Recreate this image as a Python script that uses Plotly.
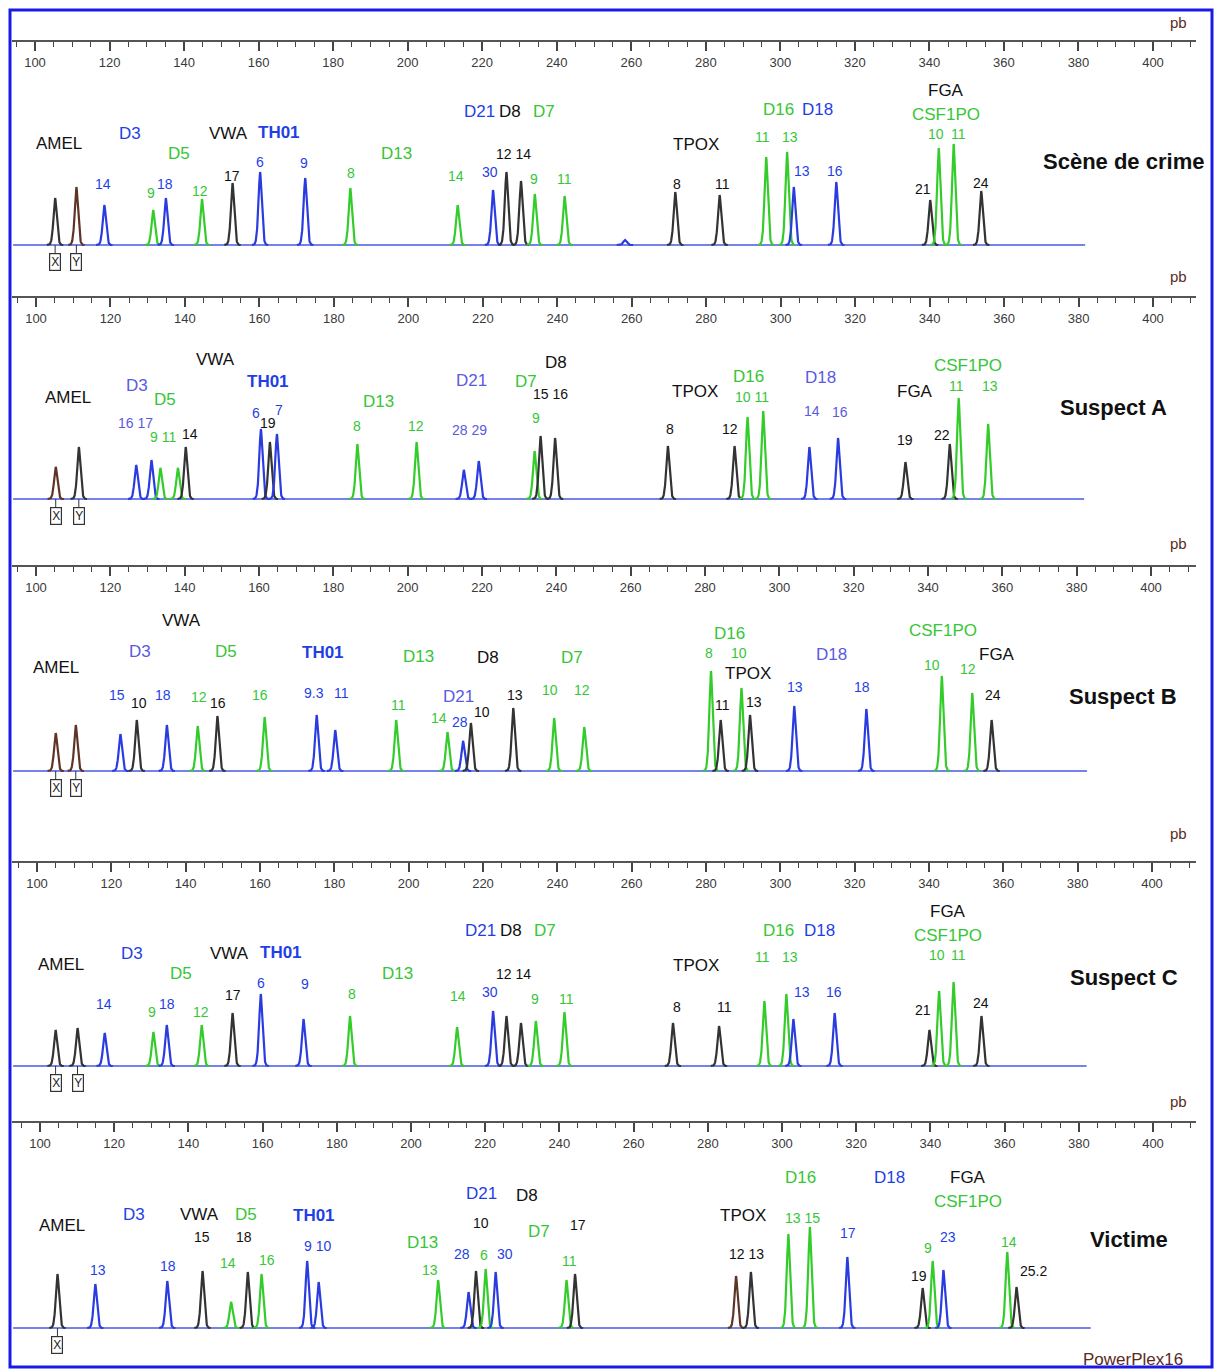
import numpy as np
import plotly.graph_objects as go

W, H = 1215, 1370
FONT = "Liberation Sans, Arial, sans-serif"

panel_names = ["Scène de crime", "Suspect A", "Suspect B", "Suspect C", "Victime"]

# ---------------- peak data: size (bp), height, dye ----------------
# dye codes: B blue, G green, K black, R brown
p1_bp  = [105.4, 111.1, 118.6, 131.7, 135.1, 144.8, 153.0, 160.4, 172.5, 184.6, 213.4, 222.9, 226.5, 230.4, 234.1, 242.1,
          258.3, 271.8, 283.7, 296.2, 301.8, 303.6, 315.0, 340.2, 342.5, 346.5, 353.9]
p1_h   = [47, 58, 40, 35, 47, 46, 62, 73, 67, 57, 40, 55, 73, 64, 51, 49,
          5, 53, 50, 88, 93, 58, 63, 45, 97, 101, 54]
p1_dye = ["K", "R", "B", "G", "B", "G", "K", "B", "B", "G", "G", "B", "K", "K", "G", "G",
          "B", "K", "K", "G", "G", "B", "B", "K", "G", "G", "K"]

p2_bp  = [105.3, 111.5, 126.9, 131.0, 133.4, 138.1, 140.2, 160.4, 162.8, 164.7, 186.3, 202.2, 214.9, 218.9, 233.9, 235.5, 239.4,
          269.7, 287.6, 291.1, 295.3, 307.7, 315.4, 333.5, 345.4, 347.8, 355.7]
p2_h   = [32, 52, 34, 39, 31, 31, 52, 70, 57, 65, 55, 57, 29, 38, 48, 63, 61,
          53, 53, 82, 88, 52, 61, 37, 55, 101, 75]
p2_dye = ["R", "K", "B", "B", "G", "G", "K", "B", "K", "B", "G", "G", "B", "B", "G", "K", "K",
          "K", "K", "G", "G", "B", "B", "K", "K", "G", "G"]

p3_bp  = [105.3, 110.7, 122.7, 127.1, 135.2, 143.5, 148.8, 161.5, 175.5, 180.5, 196.9, 210.7, 214.9, 217.0, 228.4, 239.4, 247.5,
          281.6, 284.2, 289.8, 292.1, 304.0, 323.4, 343.7, 351.9, 357.1]
p3_h   = [38, 46, 37, 51, 46, 45, 55, 54, 56, 41, 51, 39, 30, 48, 63, 53, 44,
          100, 51, 83, 56, 65, 62, 95, 78, 51]
p3_dye = ["R", "R", "B", "K", "B", "G", "K", "G", "B", "B", "G", "G", "B", "K", "K", "G", "G",
          "G", "K", "G", "K", "B", "B", "G", "G", "K"]

p4_bp  = [105.0, 110.9, 118.2, 131.3, 134.9, 144.3, 152.6, 160.2, 171.7, 184.2, 213.0, 222.7, 226.3, 230.2, 234.2, 241.9,
          271.1, 283.5, 295.7, 301.6, 303.5, 314.6, 340.1, 342.7, 346.6, 354.1]
p4_h   = [36, 38, 33, 34, 41, 41, 53, 72, 47, 50, 39, 55, 50, 43, 45, 54,
          43, 40, 65, 72, 47, 53, 36, 75, 84, 50]
p4_dye = ["K", "K", "B", "G", "B", "G", "K", "B", "B", "G", "G", "B", "K", "K", "G", "G",
          "K", "K", "G", "G", "B", "B", "K", "G", "G", "K"]

p5_bp  = [104.7, 114.9, 134.3, 143.8, 151.5, 156.0, 159.7, 172.0, 175.1, 207.3, 215.5, 217.5, 220.1, 222.8, 241.9, 244.2,
          287.6, 291.6, 301.7, 307.5, 317.6, 337.9, 340.6, 343.5, 360.7, 363.2]
p5_h   = [54, 44, 47, 57, 26, 56, 54, 67, 46, 48, 36, 57, 59, 56, 48, 54,
          52, 56, 94, 101, 71, 40, 67, 58, 76, 41]
p5_dye = ["K", "B", "B", "K", "G", "K", "G", "B", "B", "G", "B", "K", "G", "B", "G", "K",
          "R", "K", "G", "G", "B", "K", "G", "B", "G", "K"]

baseline_end = [381.8, 381.5, 382.8, 382.4, 383.2]

# amelogenin boxes (bp of X / Y peaks)
amel_labels = [["X", "Y"], ["X", "Y"], ["X", "Y"], ["X", "Y"], ["X"]]

# ---------------- text labels: text, bp, height, colour code, kind ----------------
lab1 = [
    ("AMEL", 106.4, 102, "K", "l"), ("D3", 125.5, 112, "B", "l"), ("VWA", 151.8, 112, "K", "l"),
    ("TH01", 165.5, 113, "B", "lb"), ("D5", 138.6, 92, "G", "l"), ("D13", 196.9, 92, "G", "l"),
    ("D21", 219.4, 134, "B", "l"), ("D8", 227.4, 134, "K", "l"), ("D7", 236.6, 134, "G", "l"),
    ("12 14", 228.5, 91, "K", "a"), ("14", 118.2, 61, "B", "a"), ("9", 131.1, 52, "G", "a"),
    ("18", 134.9, 61, "B", "a"), ("12", 144.3, 54, "G", "a"), ("17", 152.9, 69, "K", "a"),
    ("6", 160.4, 83, "B", "a"), ("9", 172.2, 82, "B", "a"), ("8", 184.8, 72, "G", "a"),
    ("14", 213.0, 69, "G", "a"), ("30", 222.1, 73, "B", "a"), ("9", 233.9, 66, "G", "a"),
    ("11", 242.2, 66, "G", "a"), ("TPOX", 277.4, 101, "K", "l"), ("8", 272.3, 61, "K", "a"),
    ("11", 284.6, 61, "K", "a"), ("D16", 299.4, 136, "G", "l"), ("D18", 310.1, 136, "B", "l"),
    ("11", 295.3, 108, "G", "a"), ("13", 302.6, 108, "G", "a"), ("13", 305.8, 74, "B", "a"),
    ("16", 314.7, 74, "B", "a"), ("FGA", 344.4, 155, "K", "l"), ("CSF1PO", 344.4, 131, "G", "l"),
    ("10", 341.8, 111, "G", "a"), ("11", 347.7, 111, "G", "a"), ("21", 338.3, 56, "K", "a"),
    ("24", 353.8, 62, "K", "a"),
]
lab2 = [
    ("VWA", 148.3, 139, "K", "l"), ("D3", 127.1, 113, "b", "l"), ("D5", 134.6, 99, "G", "l"),
    ("TH01", 162.3, 117, "B", "lb"), ("AMEL", 108.6, 101, "K", "l"), ("16 17", 126.8, 76, "b", "a"),
    ("9 11", 134.1, 62, "G", "a"), ("14", 141.3, 65, "K", "a"), ("6", 159.1, 86, "B", "a"),
    ("19", 162.3, 76, "K", "a"), ("7", 165.2, 89, "B", "a"), ("D13", 192.1, 97, "G", "l"),
    ("8", 186.2, 73, "G", "a"), ("12", 202.0, 73, "G", "a"), ("D21", 217.0, 118, "b", "l"),
    ("28 29", 216.5, 69, "b", "a"), ("D7", 231.5, 117, "G", "l"), ("D8", 239.6, 136, "K", "l"),
    ("15 16", 238.3, 105, "K", "a"), ("9", 234.2, 81, "G", "a"), ("TPOX", 276.9, 107, "K", "l"),
    ("D16", 291.4, 122, "G", "l"), ("10 11", 292.2, 102, "G", "a"), ("D18", 310.7, 121, "b", "l"),
    ("14", 308.3, 88, "b", "a"), ("16", 315.8, 87, "b", "a"), ("8", 270.2, 70, "K", "a"),
    ("12", 286.3, 70, "K", "a"), ("FGA", 336.2, 107, "K", "l"), ("19", 333.3, 59, "K", "a"),
    ("22", 343.2, 64, "K", "a"), ("CSF1PO", 350.2, 133, "G", "l"), ("11", 347.2, 113, "G", "a"),
    ("13", 356.1, 113, "G", "a"),
]
lab3 = [
    ("VWA", 139.2, 151, "K", "l"), ("D3", 128.0, 120, "b", "l"), ("D5", 151.1, 120, "G", "l"),
    ("TH01", 177.2, 119, "B", "lb"), ("AMEL", 105.4, 104, "K", "l"), ("D13", 203.0, 115, "G", "l"),
    ("D8", 221.5, 114, "K", "l"), ("D7", 244.1, 114, "G", "l"), ("15", 121.8, 76, "B", "a"),
    ("10", 127.7, 68, "K", "a"), ("18", 134.1, 76, "B", "a"), ("12", 143.8, 74, "G", "a"),
    ("16", 148.9, 68, "K", "a"), ("16", 160.2, 76, "G", "a"), ("9.3", 174.7, 78, "B", "a"),
    ("11", 182.3, 78, "B", "a"), ("11", 197.6, 66, "G", "a"), ("D21", 213.7, 75, "b", "l"),
    ("14", 208.3, 53, "G", "a"), ("28", 214.2, 49, "B", "a"), ("10", 219.9, 59, "K", "a"),
    ("13", 229.0, 76, "K", "a"), ("10", 238.4, 81, "G", "a"), ("12", 247.0, 81, "G", "a"),
    ("D16", 286.5, 138, "G", "l"), ("8", 281.2, 118, "G", "a"), ("10", 289.2, 118, "G", "a"),
    ("TPOX", 291.5, 98, "K", "l"), ("11", 284.7, 66, "K", "a"), ("13", 293.3, 69, "K", "a"),
    ("D18", 314.0, 117, "b", "l"), ("13", 304.3, 84, "B", "a"), ("18", 322.3, 84, "B", "a"),
    ("CSF1PO", 344.0, 141, "G", "l"), ("10", 341.1, 106, "G", "a"), ("12", 350.8, 102, "G", "a"),
    ("FGA", 358.6, 117, "K", "l"), ("24", 357.6, 76, "K", "a"),
]
lab4 = [
    ("AMEL", 106.5, 102, "K", "l"), ("D3", 125.5, 113, "B", "l"), ("VWA", 151.9, 113, "K", "l"),
    ("TH01", 165.6, 114, "B", "lb"), ("D5", 138.7, 93, "G", "l"), ("D13", 197.0, 93, "G", "l"),
    ("D21", 219.4, 136, "B", "l"), ("D8", 227.4, 136, "K", "l"), ("D7", 236.8, 136, "G", "l"),
    ("12 14", 228.2, 92, "K", "a"), ("14", 118.0, 62, "B", "a"), ("9", 130.9, 54, "G", "a"),
    ("18", 134.9, 62, "B", "a"), ("12", 144.1, 54, "G", "a"), ("17", 152.7, 71, "K", "a"),
    ("6", 160.2, 83, "B", "a"), ("9", 172.0, 82, "B", "a"), ("8", 184.7, 72, "G", "a"),
    ("14", 213.2, 70, "G", "a"), ("30", 222.0, 74, "B", "a"), ("9", 234.1, 67, "G", "a"),
    ("11", 242.5, 67, "G", "a"), ("TPOX", 277.4, 101, "K", "l"), ("8", 272.3, 59, "K", "a"),
    ("11", 284.9, 59, "K", "a"), ("D16", 299.4, 136, "G", "l"), ("D18", 310.6, 136, "B", "l"),
    ("11", 295.2, 109, "G", "a"), ("13", 302.7, 109, "G", "a"), ("13", 305.9, 74, "B", "a"),
    ("16", 314.5, 74, "B", "a"), ("FGA", 345.0, 155, "K", "l"), ("CSF1PO", 345.0, 131, "G", "l"),
    ("10", 342.2, 111, "G", "a"), ("11", 347.9, 111, "G", "a"), ("21", 338.4, 56, "K", "a"),
    ("24", 354.0, 63, "K", "a"),
]
lab5 = [
    ("AMEL", 105.9, 103, "K", "l"), ("D3", 125.3, 114, "B", "l"), ("VWA", 143.1, 114, "K", "l"),
    ("D5", 155.5, 114, "G", "l"), ("TH01", 173.9, 113, "B", "lb"), ("15", 143.7, 91, "K", "a"),
    ("18", 155.0, 91, "K", "a"), ("14", 150.7, 65, "G", "a"), ("16", 161.2, 68, "G", "a"),
    ("13", 115.6, 58, "B", "a"), ("18", 134.5, 62, "B", "a"), ("9 10", 174.7, 82, "B", "a"),
    ("D13", 203.2, 86, "G", "l"), ("13", 205.1, 58, "G", "a"), ("D21", 219.1, 135, "B", "l"),
    ("D8", 231.3, 133, "K", "l"), ("10", 218.9, 105, "K", "a"), ("D7", 234.5, 97, "G", "l"),
    ("17", 245.0, 103, "K", "a"), ("28", 213.7, 74, "B", "a"), ("6", 219.7, 73, "G", "a"),
    ("30", 225.3, 74, "B", "a"), ("11", 242.6, 67, "G", "a"), ("TPOX", 289.5, 113, "K", "l"),
    ("12 13", 290.3, 74, "K", "a"), ("D16", 305.1, 151, "G", "l"), ("13 15", 305.4, 110, "G", "a"),
    ("D18", 329.1, 151, "B", "l"), ("17", 317.8, 95, "B", "a"), ("FGA", 350.1, 151, "K", "l"),
    ("CSF1PO", 350.1, 127, "G", "l"), ("9", 339.4, 80, "G", "a"), ("23", 344.7, 91, "B", "a"),
    ("19", 336.9, 52, "K", "a"), ("14", 361.2, 86, "G", "a"), ("25.2", 367.7, 57, "K", "a"),
]

# ---------------- layout configuration (pixels of the page) ----------------
panels = [
    dict(bp=p1_bp, h=p1_h, dye=p1_dye, lab=lab1, top=41, bottom=290, base=245, p100=35, p400=1153, pb=22, title=(392.2, 84)),
    dict(bp=p2_bp, h=p2_h, dye=p2_dye, lab=lab2, top=297, bottom=560, base=499, p100=36, p400=1153, pb=276, title=(389.5, 91)),
    dict(bp=p3_bp, h=p3_h, dye=p3_dye, lab=lab3, top=566, bottom=855, base=771, p100=36, p400=1151, pb=543, title=(392.5, 75)),
    dict(bp=p4_bp, h=p4_h, dye=p4_dye, lab=lab4, top=862, bottom=1115, base=1066, p100=37, p400=1152, pb=833, title=(392.5, 89)),
    dict(bp=p5_bp, h=p5_h, dye=p5_dye, lab=lab5, top=1122, bottom=1365, base=1328, p100=40, p400=1153, pb=1101, title=(393.5, 89)),
]

TRACE_COL = {"B": "#2a3be0", "G": "#33cc2a", "K": "#333333", "R": "#5e3426"}
TEXT_COL = {"B": "#1f3fe6", "b": "#5a5ae2", "G": "#36c636", "K": "#111111"}
BASE_COL = "#4658e6"
LEFT_PX, RIGHT_PX = 12, 1196

fig = go.Figure()
layout = dict(width=W, height=H, margin=dict(l=0, r=0, t=0, b=0),
              paper_bgcolor="white", plot_bgcolor="white", showlegend=False)
annotations = []
shapes = []

for i, P in enumerate(panels):
    n = i + 1
    xa = "x" if n == 1 else f"x{n}"
    ya = "y" if n == 1 else f"y{n}"
    s = (P["p400"] - P["p100"]) / 300.0
    xr = [100 + (LEFT_PX - P["p100"]) / s, 100 + (RIGHT_PX - P["p100"]) / s]
    yr = [P["base"] - P["bottom"], P["base"] - P["top"]]
    top_paper = 1 - P["top"] / H
    layout["xaxis" if n == 1 else f"xaxis{n}"] = dict(
        domain=[LEFT_PX / W, RIGHT_PX / W], range=xr, anchor="free", position=top_paper,
        side="bottom", showline=True, linecolor="#555", linewidth=2,
        ticks="outside", ticklen=9, tickwidth=1.6, tickcolor="#444",
        tick0=0, dtick=20, showgrid=False, zeroline=False,
        tickfont=dict(family=FONT, size=13, color="#3a3a3a"),
        minor=dict(dtick=5, ticks="outside", ticklen=5, tickwidth=1.3, tickcolor="#444", showgrid=False),
    )
    layout["yaxis" if n == 1 else f"yaxis{n}"] = dict(
        domain=[1 - P["bottom"] / H, top_paper], range=yr, anchor=xa,
        visible=False, showgrid=False, zeroline=False,
    )

    # baseline
    fig.add_trace(go.Scatter(x=[xr[0] + 0.3, baseline_end[i]], y=[0, 0], mode="lines",
                             line=dict(color=BASE_COL, width=1.6), xaxis=xa, yaxis=ya, hoverinfo="skip"))
    # peaks (sharp top, slightly wider foot)
    for c, hgt, d in zip(P["bp"], P["h"], P["dye"]):
        xs = np.linspace(c - 2.2, c + 2.2, 81)
        ys = hgt * np.exp(-0.5 * (np.abs(xs - c) / 0.42) ** 1.7)
        fig.add_trace(go.Scatter(x=xs, y=ys, mode="lines", line=dict(color=TRACE_COL[d], width=2.2),
                                 xaxis=xa, yaxis=ya, hoverinfo="skip"))

    # amelogenin boxes
    for k, t in enumerate(amel_labels[i]):
        annotations.append(dict(x=P["bp"][k], y=0, xref=xa, yref=ya, text=t, showarrow=True,
                                arrowhead=0, arrowwidth=1, arrowcolor="#333", ax=0, ay=17,
                                font=dict(family=FONT, size=12, color="#222"),
                                bordercolor="#333", borderwidth=1.2, borderpad=1, bgcolor="white"))

    # labels
    for t, x, y, c, kind in P["lab"]:
        size = 14 if kind == "a" else 17
        txt = f"<b>{t}</b>" if kind == "lb" else t
        annotations.append(dict(x=x, y=y, xref=xa, yref=ya, text=txt, showarrow=False,
                                xanchor="center", yanchor="middle",
                                font=dict(family=FONT, size=size, color=TEXT_COL[c])))
    # sample name
    annotations.append(dict(x=P["title"][0], y=P["title"][1], xref=xa, yref=ya,
                            text=f"<b>{panel_names[i]}</b>", showarrow=False,
                            xanchor="center", yanchor="middle",
                            font=dict(family=FONT, size=22, color="#111")))
    # pb unit
    annotations.append(dict(x=1178 / W, y=1 - P["pb"] / H, xref="paper", yref="paper", text="pb",
                            showarrow=False, xanchor="center", yanchor="middle",
                            font=dict(family=FONT, size=15, color="#5a2a1e")))

annotations.append(dict(x=1133 / W, y=1 - 1359 / H, xref="paper", yref="paper", text="PowerPlex16",
                        showarrow=False, xanchor="center", yanchor="middle",
                        font=dict(family=FONT, size=17, color="#5a2a1e")))

shapes.append(dict(type="rect", xref="paper", yref="paper", x0=10 / W, x1=1212 / W,
                   y0=1 - 1367 / H, y1=1 - 10 / H, line=dict(color="#1a1ae6", width=3)))

layout["annotations"] = annotations
layout["shapes"] = shapes
fig.update_layout(**layout)
fig.write_html("out.html", config={"displayModeBar": False},
               post_script="document.body.style.margin='0';document.body.style.overflow='hidden';")
